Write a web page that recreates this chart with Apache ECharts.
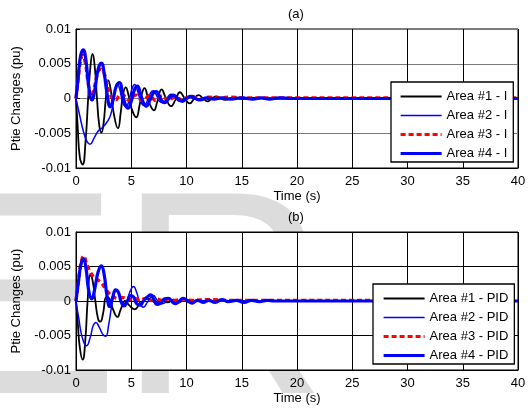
<!DOCTYPE html>
<html>
<head>
<meta charset="utf-8">
<script src="https://cdn.jsdelivr.net/npm/echarts@6/dist/echarts.min.js"></script>
<style>html,body{margin:0;padding:0;background:#fff}#c{width:532px;height:410px}</style>
</head>
<body>
<div id="c"></div>
<script>
// ---- tick labels ----
const xTicks = [0, 5, 10, 15, 20, 25, 30, 35, 40];
const yTickLabels = ['-0.01', '-0.005', '0', '0.005', '0.01'];

// ---- (a) integral controller: [time (s), Ptie change (pu)] ----
const area1I = [[0,0],[0.15,-0.004],[0.35,-0.0085],[0.6,-0.0095],[0.85,-0.0065],[1.1,0],[1.3,0.0045],[1.5,0.0064],[1.7,0.0045],[1.9,0],[2.1,-0.0038],[2.3,-0.0049],[2.5,-0.0035],[2.7,0],[2.93,0.0026],[3.15,0.0012],[3.4,-0.002],[3.8,-0.0043],[4.05,-0.002],[4.25,0.0005],[4.5,0.0016],[4.75,0.0005],[5.0,-0.0013],[5.45,-0.0027],[5.75,-0.001],[5.95,0.0006],[6.2,0.0015],[6.45,0.0005],[6.7,-0.0009],[7.05,-0.0017],[7.35,-0.0005],[7.75,0.0013],[8.1,0.0002],[8.6,-0.0011],[9.0,-0.0002],[9.4,0.0009],[9.85,0],[10.3,-0.0007],[10.7,0],[11.1,0.0005],[11.5,0],[11.9,-0.0004],[12.3,0],[12.7,0.0003],[13.1,0],[13.5,-0.0002],[14.3,0.0002],[15.1,-0.0001],[16,0.0001],[17,0],[40,0]];
const area2I = [[0,0],[0.3,-0.0022],[0.7,-0.0049],[1.0,-0.0062],[1.27,-0.0066],[1.6,-0.0058],[2.0,-0.0047],[2.45,-0.0041],[2.8,-0.0034],[3.1,-0.0025],[3.35,-0.0008],[3.55,0.0012],[3.75,0.0021],[3.95,0.0014],[4.2,-0.0004],[4.5,-0.0012],[4.8,-0.0003],[5.05,0.0013],[5.3,0.002],[5.55,0.0012],[5.85,-0.0004],[6.15,-0.001],[6.5,-0.0002],[6.75,0.0008],[7.0,0.0011],[7.3,0.0004],[7.55,-0.0004],[7.85,-0.0006],[8.2,0],[8.6,0.0006],[9.0,0.0001],[9.4,-0.0004],[9.8,0],[10.2,0.0003],[10.6,0],[11,-0.0002],[11.5,0.0001],[12,-0.0001],[13,0.0001],[14,0],[15,0.0001],[16,-0.0001],[17,0.0001],[18,0],[40,0]];
const area3I = [[0,0],[0.2,0.0028],[0.4,0.0053],[0.62,0.0062],[0.85,0.005],[1.1,0.0022],[1.35,0.0003],[1.6,0.0012],[1.9,0.0033],[2.2,0.0042],[2.5,0.0038],[2.8,0.0022],[3.05,0.0008],[3.3,0],[3.6,-0.0002],[3.9,0.0004],[4.2,0.0006],[4.5,0.0001],[4.8,-0.0003],[5.1,0.0002],[5.4,0.0005],[5.7,0.0001],[6.0,-0.0003],[6.3,0],[6.6,0.0004],[6.9,0.0001],[7.2,-0.0003],[7.5,0],[7.8,0.0004],[8.1,0],[8.4,-0.0003],[8.7,0],[9.0,0.0003],[9.3,0],[9.6,-0.0002],[10,0.0001],[10.5,0.0003],[11,0],[11.5,-0.0001],[12,0.0002],[13,0.0001],[14,0.0002],[15,0.0001],[40,0.0001]];
const area4I = [[0,0],[0.2,0.003],[0.4,0.006],[0.65,0.007],[0.9,0.0055],[1.15,0.0018],[1.45,-0.0002],[1.7,0.0012],[2.0,0.0042],[2.3,0.0051],[2.55,0.0036],[2.8,0.0008],[3.1,-0.0012],[3.35,-0.0002],[3.65,0.0018],[3.95,0.0023],[4.2,0.0008],[4.45,-0.0008],[4.7,-0.0014],[5.0,-0.0004],[5.3,0.0013],[5.55,0.0018],[5.85,0.0006],[6.1,-0.0006],[6.35,-0.0011],[6.7,-0.0002],[7.0,0.0008],[7.25,0.001],[7.55,0.0003],[7.75,-0.0003],[8.0,-0.0006],[8.4,0],[8.8,0.0005],[9.2,0],[9.6,-0.0004],[10.0,0],[10.4,0.0003],[10.8,0],[11.3,-0.0002],[11.8,0.0001],[12.5,-0.0001],[13.2,0.0001],[14,-0.0001],[15,0.0001],[16,-0.0001],[16.8,0.0001],[17.5,-0.0001],[18.4,0.0001],[19.5,0],[40,0]];

// ---- (b) PID controller ----
const area1PID = [[0,0],[0.15,-0.003],[0.35,-0.0068],[0.6,-0.0085],[0.85,-0.0055],[1.05,0],[1.3,0.0038],[1.5,0.003],[1.75,0],[2.0,-0.0026],[2.2,-0.003],[2.45,-0.0018],[2.75,0.0006],[3.0,0.0004],[3.35,-0.0012],[3.75,-0.0023],[4.05,-0.0012],[4.45,0],[4.8,-0.0006],[5.3,-0.0012],[5.7,-0.0006],[6.1,0],[6.5,0.0003],[6.9,0],[7.3,-0.0003],[7.8,0.0002],[8.3,-0.0002],[8.8,0.0002],[9.3,-0.0001],[10,0.0001],[11,0],[40,0]];
const area2PID = [[0,0],[0.25,-0.0025],[0.55,-0.0052],[0.95,-0.0065],[1.3,-0.0052],[1.55,-0.0036],[1.8,-0.0031],[2.1,-0.0038],[2.45,-0.0049],[2.7,-0.0051],[2.95,-0.0035],[3.2,-0.001],[3.45,0.0011],[3.7,0.0016],[3.95,0.0008],[4.25,-0.0004],[4.55,-0.0002],[4.85,0.0012],[5.2,0.0021],[5.5,0.0012],[5.8,-0.0004],[6.1,-0.0009],[6.45,-0.0002],[6.75,0.0005],[7.0,0.0008],[7.35,0.0001],[7.7,-0.0004],[8.0,-0.0003],[8.4,0.0003],[8.8,0.0001],[9.2,-0.0003],[9.6,0],[10,0.0002],[10.5,-0.0001],[11,0.0001],[12,0],[40,0]];
const area3PID = [[0,0],[0.2,0.0025],[0.45,0.0055],[0.7,0.0065],[0.95,0.0055],[1.3,0.0042],[1.6,0.0035],[1.95,0.0031],[2.3,0.0026],[2.65,0.0018],[3.0,0.0011],[3.4,0.0006],[3.8,0.0004],[4.3,0.0005],[4.8,0.0002],[5.3,0.0004],[5.8,0.0001],[6.3,0.0004],[6.8,0.0001],[7.3,0.0003],[7.8,0.0001],[8.3,0.0003],[8.8,0.0001],[9.5,0.0002],[10.5,0.0001],[12,0.0002],[14,0.0001],[40,0.0001]];
const area4PID = [[0,0],[0.2,0.0025],[0.45,0.0053],[0.68,0.0061],[0.9,0.0048],[1.15,0.0015],[1.42,0.0003],[1.7,0.0018],[2.0,0.0042],[2.3,0.0051],[2.55,0.0038],[2.8,0.0008],[3.05,-0.0008],[3.3,0.0004],[3.6,0.0016],[3.85,0.0012],[4.1,-0.0002],[4.35,-0.0007],[4.65,0],[4.95,0.0008],[5.2,0.0006],[5.5,-0.0004],[5.8,-0.0006],[6.1,0],[6.4,0.0005],[6.75,0.0009],[7.05,0.0002],[7.35,-0.0005],[7.7,-0.0003],[8.0,0.0003],[8.35,0.0004],[8.7,-0.0001],[9.0,-0.0004],[9.35,0],[9.7,0.0004],[10.1,0],[10.5,-0.0003],[11,0.0001],[11.5,-0.0002],[12,0.0001],[12.6,-0.0002],[13.2,0.0002],[13.8,-0.0001],[14.5,0.0001],[15.2,-0.0002],[15.9,0.0001],[16.6,-0.0001],[17.3,0.0001],[18,0],[40,0]];

const namesI = ['Area #1 - I', 'Area #2 - I', 'Area #3 - I', 'Area #4 - I'];
const namesPID = ['Area #1 - PID', 'Area #2 - PID', 'Area #3 - PID', 'Area #4 - PID'];

const FONT = '"Liberation Sans", Arial, sans-serif';
const styles = [
  {color: '#000000', width: 1.8, type: 'solid'},
  {color: '#0000ff', width: 1.5, type: 'solid'},
  {color: '#ff0000', width: 3.2, type: [5, 3]},
  {color: '#0000ff', width: 3.2, type: 'solid'}
];

function mkX(gi) {
  return {
    type: 'value', gridIndex: gi, min: 0, max: 40, interval: 5,
    name: 'Time (s)', nameLocation: 'middle', nameGap: 22,
    nameTextStyle: {color: '#000', fontSize: 13, fontFamily: FONT},
    axisLine: {show: true, onZero: false, lineStyle: {color: '#000', width: 1}},
    axisTick: {show: true, inside: true, length: 4, lineStyle: {color: '#000'}},
    axisLabel: {color: '#000', fontSize: 13, fontFamily: FONT, margin: 7},
    splitLine: {show: true, lineStyle: {color: '#000', width: 1}}
  };
}
function mkY(gi, gridColor) {
  return {
    type: 'value', gridIndex: gi, min: -0.01, max: 0.01, interval: 0.005,
    name: 'Ptie Changes (pu)', nameLocation: 'middle', nameGap: 51, nameRotate: 90,
    nameTextStyle: {color: '#000', fontSize: 13, fontFamily: FONT},
    axisLine: {show: true, lineStyle: {color: '#000', width: 1}},
    axisTick: {show: true, inside: true, length: 4, lineStyle: {color: '#000'}},
    axisLabel: {color: '#000', fontSize: 13, fontFamily: FONT, margin: 5,
      formatter: v => yTickLabels[Math.round(v / 0.005) + 2]},
    splitLine: {show: true, lineStyle: {color: gridColor, width: 1}}
  };
}
function mkSeries(names, datas, gi) {
  return names.map((n, i) => ({
    name: n, type: 'line', xAxisIndex: gi, yAxisIndex: gi,
    data: datas[i], symbol: 'none', smooth: 0.5, clip: true,
    lineStyle: {color: styles[i].color, width: styles[i].width, type: styles[i].type},
    itemStyle: {color: styles[i].color},
    z: 2 + i, animation: false
  }));
}
function mkLegend(names, left, top, pad) {
  return {
    data: names.map((n, i) => ({
      name: n,
      lineStyle: {color: styles[i].color, width: styles[i].width, type: styles[i].type}
    })),
    orient: 'vertical', left: left, top: top, z: 20,
    itemWidth: 41, itemHeight: 14, itemGap: 6, padding: pad,
    backgroundColor: '#fff', borderColor: '#000', borderWidth: 1.3,
    textStyle: {color: '#000', fontSize: 13, fontFamily: FONT},
    itemStyle: {opacity: 0}, selectedMode: false
  };
}

const chart = echarts.init(document.getElementById('c'), null, {renderer: 'canvas'});
chart.setOption({
  animation: false,
  backgroundColor: '#fff',
  graphic: {elements: [
    {type: 'text', z: -100, silent: true, style: {text: 'E', x: -74, y: 313, fontSize: 290, fontFamily: 'Liberation Sans', fill: '#dcdcdc', verticalAlign: 'middle', align: 'left'}},
    {type: 'text', z: -100, silent: true, style: {text: 'R', x: 118, y: 313, fontSize: 290, fontFamily: 'Liberation Sans', fill: '#dcdcdc', verticalAlign: 'middle', align: 'left'}}
  ]},
  title: [
    {text: '(a)', left: 288, top: 8, padding: 0, textStyle: {color: '#000', fontSize: 13, fontWeight: 'normal', fontFamily: FONT}},
    {text: '(b)', left: 288, top: 211, padding: 0, textStyle: {color: '#000', fontSize: 13, fontWeight: 'normal', fontFamily: FONT}}
  ],
  grid: [
    {left: 76, top: 29, width: 442, height: 139, show: true, backgroundColor: '#fff', borderColor: '#000', borderWidth: 1},
    {left: 76, top: 232, width: 442, height: 138, show: true, backgroundColor: '#fff', borderColor: '#000', borderWidth: 1}
  ],
  xAxis: [mkX(0), mkX(1)],
  yAxis: [mkY(0, '#7a7a7a'), mkY(1, '#000')],
  legend: [mkLegend(namesI, 391, 82, [8, 6, 2, 8]), mkLegend(namesPID, 373, 284, [8, 6, 2, 9])],
  series: [].concat(
    mkSeries(namesI, [area1I, area2I, area3I, area4I], 0),
    mkSeries(namesPID, [area1PID, area2PID, area3PID, area4PID], 1)
  )
});
</script>
</body>
</html>
